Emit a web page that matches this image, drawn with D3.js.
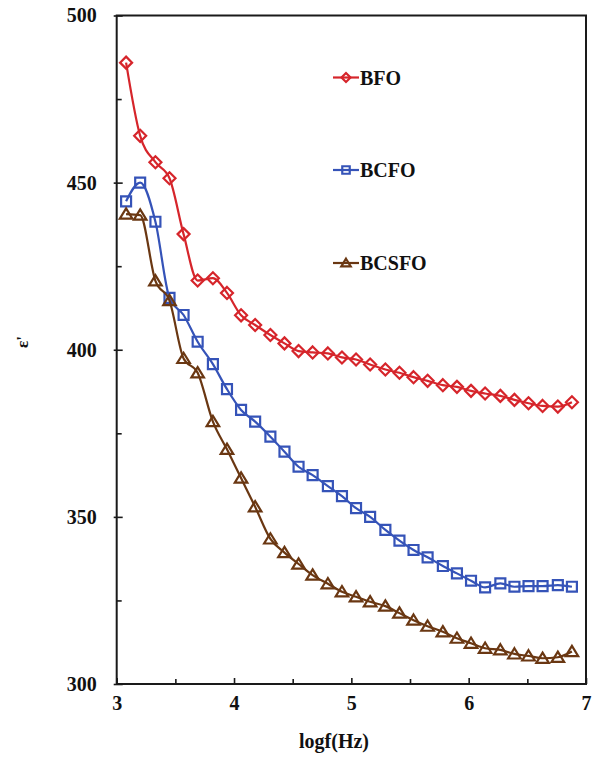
<!DOCTYPE html>
<html>
<head>
<meta charset="utf-8">
<script src="https://cdn.jsdelivr.net/npm/d3@7"></script>
<style>
  html, body { margin: 0; padding: 0; background: #fff; }
  svg { display: block; }
  text { font-family: "Liberation Serif", "Times New Roman", serif; font-weight: bold; fill: #111; }
</style>
</head>
<body>
<svg id="chart" width="597" height="757"></svg>
<script>
// log frequency (x) values
const logf = [3.08, 3.20, 3.33, 3.45, 3.57, 3.69, 3.82, 3.94, 4.06, 4.18, 4.31, 4.43, 4.55, 4.67, 4.80, 4.92,
              5.04, 5.16, 5.29, 5.41, 5.53, 5.65, 5.78, 5.90, 6.02, 6.14, 6.27, 6.39, 6.51, 6.63, 6.76, 6.88];
const bfo = [485.9, 464.0, 456.1, 451.3, 434.6, 420.7, 421.4, 417.0, 410.3, 407.4, 404.4, 401.9, 399.6, 399.2, 398.9, 397.7,
             397.1, 395.6, 394.1, 393.1, 391.8, 390.7, 389.4, 388.9, 387.7, 386.9, 386.2, 385.0, 384.0, 383.2, 383.0, 384.3];
const bcfo = [444.4, 450.0, 438.3, 415.5, 410.4, 402.4, 395.7, 388.2, 382.0, 378.5, 374.0, 369.5, 365.0, 362.5, 359.2, 356.2,
              352.6, 350.0, 346.1, 342.9, 340.1, 337.9, 335.3, 333.1, 330.9, 328.9, 330.1, 329.1, 329.3, 329.3, 329.6, 329.1];
const bcsfo = [440.6, 440.3, 420.6, 414.7, 397.4, 393.1, 378.5, 370.2, 361.6, 353.0, 343.4, 339.3, 335.9, 332.6, 330.0, 327.6,
               326.1, 324.6, 323.3, 321.2, 319.1, 317.3, 315.6, 313.7, 312.2, 310.7, 310.2, 309.0, 308.4, 307.7, 308.0, 309.7];
const seriesNames = ["BFO", "BCFO", "BCSFO"];
const xTicks = [3, 4, 5, 6, 7];
const xMinorTicks = [3.5, 4.5, 5.5, 6.5];
const yTicks = [300, 350, 400, 450, 500];
const yMinorTicks = [325, 375, 425, 475];

const colors = ["#d6252b", "#3553b8", "#6a3712"];
const shapes = ["diamond", "square", "triangle"];
const values = [bfo, bcfo, bcsfo];

const svg = d3.select("#chart");
const x = d3.scaleLinear().domain([3, 7]).range([116.7, 586]);
const y = d3.scaleLinear().domain([300, 500]).range([684, 15.5]);

// frame
const axisColor = "#1a1a1a";
svg.append("rect")
  .attr("x", x(3)).attr("y", y(500))
  .attr("width", x(7) - x(3)).attr("height", y(300) - y(500))
  .attr("fill", "none").attr("stroke", axisColor).attr("stroke-width", 2);

// x axis major
const gx = svg.append("g").attr("transform", `translate(0,${y(300)})`)
  .call(d3.axisBottom(x).tickValues(xTicks).tickFormat(d3.format("d")).tickSizeInner(-6).tickSizeOuter(0).tickPadding(12));
gx.select(".domain").remove();
gx.selectAll(".tick line").attr("stroke", axisColor).attr("stroke-width", 1.6);
gx.selectAll(".tick text").attr("font-size", 20).attr("fill", "#111")
  .style("font-family", '"Liberation Serif", serif').style("font-weight", "bold");

const gxm = svg.append("g").attr("transform", `translate(0,${y(300)})`)
  .call(d3.axisBottom(x).tickValues(xMinorTicks).tickFormat("").tickSizeInner(-5).tickSizeOuter(0));
gxm.select(".domain").remove();
gxm.selectAll(".tick line").attr("stroke", axisColor).attr("stroke-width", 1.6);

// y axis major
const gy = svg.append("g").attr("transform", `translate(${x(3)},0)`)
  .call(d3.axisLeft(y).tickValues(yTicks).tickFormat(d3.format("d")).tickSizeInner(3).tickSizeOuter(0).tickPadding(17));
gy.select(".domain").remove();
gy.selectAll(".tick line").attr("x2", 6).attr("x1", -3).attr("stroke", axisColor).attr("stroke-width", 1.6);
gy.selectAll(".tick text").attr("font-size", 20).attr("fill", "#111")
  .style("font-family", '"Liberation Serif", serif').style("font-weight", "bold");

const gym = svg.append("g").attr("transform", `translate(${x(3)},0)`)
  .call(d3.axisLeft(y).tickValues(yMinorTicks).tickFormat("").tickSizeInner(-5).tickSizeOuter(0));
gym.select(".domain").remove();
gym.selectAll(".tick line").attr("stroke", axisColor).attr("stroke-width", 1.6);

// axis titles
svg.append("text").attr("x", 334).attr("y", 748).attr("text-anchor", "middle")
  .attr("font-size", 20).text("logf(Hz)");
svg.append("text").attr("transform", "translate(28,342) rotate(-90)").attr("text-anchor", "middle")
  .attr("font-size", 17).text("ε'");

function markerPath(shape, s) {
  const p = d3.path();
  if (shape === "diamond") {
    p.moveTo(0, -s); p.lineTo(s, 0); p.lineTo(0, s); p.lineTo(-s, 0); p.closePath();
  } else if (shape === "square") {
    const h = s * 0.83;
    p.rect(-h, -h, 2 * h, 2 * h);
  } else {
    const h = s * 0.95;
    p.moveTo(0, -h); p.lineTo(h * 1.1, h * 0.8); p.lineTo(-h * 1.1, h * 0.8); p.closePath();
  }
  return p.toString();
}

const line = d3.line().x((d, i) => x(logf[i])).y(d => y(d)).curve(d3.curveMonotoneX);

values.forEach((vals, si) => {
  const g = svg.append("g");
  g.append("path").datum(vals).attr("d", line)
    .attr("fill", "none").attr("stroke", colors[si]).attr("stroke-width", 2.2);
  g.selectAll("path.m").data(vals).join("path").attr("class", "m")
    .attr("transform", (d, i) => `translate(${x(logf[i])},${y(d)})`)
    .attr("d", markerPath(shapes[si], 6))
    .attr("fill", "none").attr("stroke", colors[si]).attr("stroke-width", 2.2);
});

// legend
const legendY = [77.5, 170, 263];
seriesNames.forEach((name, si) => {
  const g = svg.append("g").attr("transform", `translate(0,${legendY[si]})`);
  g.append("line").attr("x1", 333).attr("x2", 359).attr("y1", 0).attr("y2", 0)
    .attr("stroke", colors[si]).attr("stroke-width", 2.2);
  g.append("path").attr("transform", "translate(346,0)").attr("d", markerPath(shapes[si], 4.5))
    .attr("fill", "none").attr("stroke", colors[si]).attr("stroke-width", 2.2);
  g.append("text").attr("x", 360).attr("y", 7).attr("font-size", 20).text(name);
});
</script>
</body>
</html>
